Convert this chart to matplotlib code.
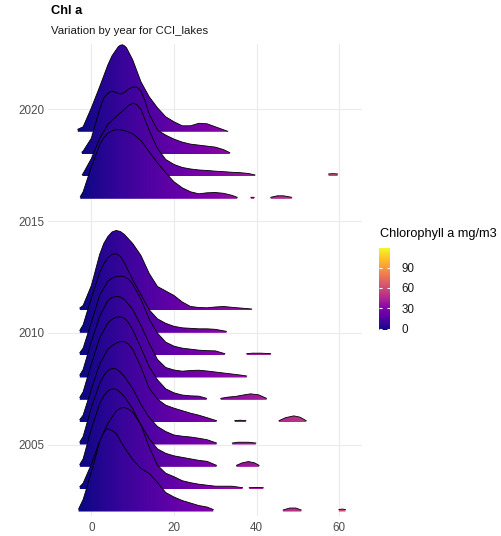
import numpy as np
import matplotlib
matplotlib.use("Agg")
import matplotlib.pyplot as plt
from matplotlib.path import Path
from matplotlib.patches import PathPatch
from matplotlib.colors import Normalize
from matplotlib.cm import ScalarMappable

plt.rcParams['font.family'] = ['Liberation Sans', 'DejaVu Sans']

nan = np.nan

# ridge heights (pixels above each year's baseline), nan = gap
x_2019 = [-3.3, -2, 0, 2, 4, 5, 6, 6.5, 7, 7.5, 8, 8.5, 9, 10, 12, 14, 16, 18, 20, 22, 24, 26, 28, 30, 32, 33]
d_2019 = [2.5, 5, 24, 45, 67, 76, 82, 85, 86.5, 87, 86, 84, 80, 72, 50, 35, 24, 15, 10, 6, 6, 8.5, 8, 5, 2, 0.5]

x_2018 = [-2.3, -2, 0, 2, 3, 4, 5, 6, 7, 8, 9, 10, 11, 12, 13, 14, 16, 18, 20, 22, 24, 26, 28, 30, 32, 33.5]
d_2018 = [2, 3, 16, 45, 56, 61, 63, 61.5, 60, 61.5, 65, 67, 67, 63, 53, 40, 24, 19, 15, 12, 10, 9, 8, 7, 4.5, 1.5]

x_2017 = [-2.2, -2, 0, 2, 4, 6, 8, 9, 10, 11, 12, 14, 16, 18, 20, 22, 24, 26, 28, 30, 32, 34, 36, 38, 39.6,
          nan, 57.4, 58.5, 59.6]
d_2017 = [2, 3, 18, 38, 52, 60, 67, 71, 73, 72, 67, 46, 28, 17, 12, 9, 7.5, 6.5, 6, 5.3, 4.8, 4.2, 3.8, 3, 1.5,
          nan, 2.5, 2.8, 2.5]

x_2016 = [-2.7, -2, 0, 2, 3, 4, 5, 6, 7, 8, 10, 12, 14, 16, 18, 20, 22, 24, 26, 28, 30, 32, 34, 35.3,
          nan, 38.6, 39.4, nan, 43.4, 45, 46.5, 48.5]
d_2016 = [2, 7, 32, 54, 61, 65.5, 68, 69, 69, 68.3, 65, 58.3, 47, 36, 26, 17, 11, 7, 5, 6, 6.3, 5.5, 3.5, 1.5,
          nan, 1.5, 1.5, nan, 1.5, 3, 3, 1.5]

x_2011 = [-2.8, -2, 0, 2, 3, 4, 5, 6, 7, 8, 10, 12, 14, 16, 18, 20, 22, 24, 26, 28, 30, 32, 34, 36, 38.8]
d_2011 = [2.5, 5, 25, 56, 67, 74, 78.5, 80, 79, 76, 67, 55, 37, 24, 19.5, 15, 8.5, 4, 3, 2.7, 3.5, 4, 3.2, 2.5, 1.5]

x_2010 = [-2.8, -2, 0, 2, 3, 4, 5, 6, 7, 8, 10, 12, 14, 16, 18, 20, 22, 24, 26, 28, 30, 32, 32.7]
d_2010 = [2.5, 8, 35, 60, 69, 75, 78.5, 79, 76.5, 70, 53, 38, 23, 14, 9.5, 6.5, 5, 4.5, 4, 4, 3.5, 2, 1.5]

x_2009 = [-2.8, -2, 0, 2, 4, 5, 6, 7, 8, 9, 10, 12, 14, 16, 18, 20, 22, 24, 26, 28, 30, 32.3,
          nan, 37.6, 39, 41, 43.4]
d_2009 = [2.5, 7, 33, 60, 74, 77, 78.5, 79, 78.5, 76, 71, 56, 36, 22, 13, 9, 7, 6, 5, 4.5, 4.3, 1.5,
          nan, 1.5, 2, 2, 1.5]

x_2008 = [-2.8, -2, 0, 2, 4, 5, 6, 7, 8, 10, 12, 14, 16, 18, 20, 22, 24, 26, 28, 30, 32, 34, 36, 37.6]
d_2008 = [2.5, 8, 36, 61, 77, 80, 81, 80.5, 78, 68, 52, 34, 18, 10, 7.5, 6.3, 7, 7.3, 6.5, 5.5, 4.5, 3.5, 2.5, 1.5]

x_2007 = [-2.8, -2, 0, 2, 4, 5, 6, 7, 8, 9, 10, 12, 14, 16, 18, 20, 22, 24, 26, 27.9,
          nan, 31.3, 33, 35, 37, 38.5, 40.5, 42.4]
d_2007 = [2.5, 8, 36, 62, 77, 80.5, 82.5, 83, 81.5, 77, 70, 52, 33, 20, 11, 7, 4.8, 4, 3.7, 1.5,
          nan, 1.5, 2.7, 3.5, 5, 6, 5, 1.5]

x_2006 = [-2.8, -2, 0, 2, 4, 5, 6, 7, 8, 9, 10, 12, 14, 16, 18, 20, 22, 24, 26, 28, 30.3,
          nan, 34.7, 36, 37.4, nan, 45.4, 47, 49, 50.5, 52]
d_2006 = [2.5, 7, 33, 58, 73, 76.5, 79, 80.5, 80.5, 78, 73, 55, 34, 23, 17, 14, 11.5, 9, 7, 4.5, 1.5,
          nan, 1.5, 2, 1.5, nan, 1.5, 4.5, 6.3, 5, 1.5]

x_2005 = [-2.8, -2, 0, 2, 3, 4, 5, 6, 7, 8, 10, 12, 14, 16, 18, 20, 22, 24, 26, 28, 30.3,
          nan, 34.1, 35.5, 38, 39.8]
d_2005 = [2.5, 8, 37, 61, 69, 74, 76, 75.5, 72.5, 68, 56, 40, 27, 18, 13, 9.5, 8.3, 7.5, 6.3, 4.8, 1.5,
          nan, 1.5, 2.3, 2.3, 1.5]

x_2004 = [-2.8, -2, 0, 2, 3, 4, 5, 6, 7, 8, 10, 12, 14, 16, 18, 20, 22, 24, 26, 28, 30.3,
          nan, 35.1, 36.5, 38, 39.5, 40.6]
d_2004 = [2.5, 8, 38, 63, 71, 76, 78, 77.5, 74.5, 70, 58, 42, 28, 18, 13.5, 11, 9.5, 8, 6.5, 5.5, 1.5,
          nan, 1.5, 4, 5.3, 4, 1.5]

x_2003 = [-2.8, -2, 0, 2, 4, 6, 7, 8, 9, 10, 12, 14, 16, 18, 20, 22, 24, 26, 28, 30, 32, 34, 36.6,
          nan, 38.2, 40, 41.6]
d_2003 = [2.5, 6, 25, 48, 66, 78, 81, 81.7, 80, 77, 64, 42, 24, 16, 12.5, 8.5, 6.5, 5, 4, 3, 3, 3, 1.5,
          nan, 1.5, 1.8, 1.5]

x_2002 = [-3.1, -2, -1.4, 0, 0.6, 2, 3, 3.8, 5, 6, 8, 10, 12, 14, 16, 18, 20, 22, 24, 26, 28, 29.5,
          nan, 46.4, 48, 49.5, 50.8, nan, 59.9, 60.7, 61.5]
d_2002 = [2.5, 12, 20, 40, 48, 70, 79, 83, 81, 78, 64, 52, 43, 38, 29, 19, 14.5, 11, 8.5, 6, 4.5, 2,
          nan, 1.5, 3.5, 3.5, 1.5, nan, 2, 2.5, 2]

years = [2019, 2018, 2017, 2016, 2011, 2010, 2009, 2008, 2007, 2006, 2005, 2004, 2003, 2002]
ridges = {
    2019: (x_2019, d_2019), 2018: (x_2018, d_2018), 2017: (x_2017, d_2017),
    2016: (x_2016, d_2016), 2011: (x_2011, d_2011), 2010: (x_2010, d_2010),
    2009: (x_2009, d_2009), 2008: (x_2008, d_2008), 2007: (x_2007, d_2007),
    2006: (x_2006, d_2006), 2005: (x_2005, d_2005), 2004: (x_2004, d_2004),
    2003: (x_2003, d_2003), 2002: (x_2002, d_2002),
}

scale = 1 / 22.33  # pixel heights -> rows (one year)
norm = Normalize(-2, 119)
cmap = plt.get_cmap("plasma")

fig = plt.figure(figsize=(5.02, 5.36), dpi=100)
ax = fig.add_axes([48 / 502, 20 / 536, (362 - 48) / 502, (516 - 44) / 536])
xlim = (-10.5, 65.5)
ylim = (2001.8, 2022.93)

grad = np.linspace(xlim[0], xlim[1], 600).reshape(1, -1)

for i, yr in enumerate(years):
    xs = np.array(ridges[yr][0], dtype=float)
    hs = np.array(ridges[yr][1], dtype=float) * scale
    z = 2 + 2 * i

    # split into pieces at the gaps
    verts, codes = [], []
    breaks = np.where(np.isnan(xs))[0]
    start = 0
    for stop in list(breaks) + [len(xs)]:
        px, ph = xs[start:stop], hs[start:stop]
        if len(px) > 1:
            pts = [(px[0], yr)] + list(zip(px, yr + ph)) + [(px[-1], yr), (px[0], yr)]
            verts += pts
            codes += [Path.MOVETO] + [Path.LINETO] * (len(pts) - 2) + [Path.CLOSEPOLY]
        start = stop + 1

    patch = PathPatch(Path(verts, codes), facecolor="none", edgecolor="none",
                      transform=ax.transData)
    ax.add_patch(patch)
    im = ax.imshow(grad, extent=[xlim[0], xlim[1], yr, yr + np.nanmax(hs)],
                   cmap=cmap, norm=norm, aspect="auto", origin="lower",
                   interpolation="bilinear", zorder=z)
    im.set_clip_path(patch)
    ax.plot(xs, yr + hs, color="black", lw=0.6, zorder=z + 0.5, solid_joinstyle="round")

ax.set_xlim(*xlim)
ax.set_ylim(*ylim)
ax.set_xticks([0, 20, 40, 60])
ax.set_yticks([2005, 2010, 2015, 2020])
ax.grid(color="#EBEBEB", lw=0.8)
ax.set_axisbelow(True)
for s in ax.spines.values():
    s.set_visible(False)
ax.tick_params(length=0, labelsize=8.4, labelcolor="#4D4D4D")
ax.tick_params(axis="y", pad=2.5)
ax.tick_params(axis="x", pad=4)

fig.text(51 / 502, 1 - 11.5 / 536, "Chl a", fontsize=9.3, fontweight="bold", va="center")
fig.text(51 / 502, 1 - 31.5 / 536, "Variation by year for CCI_lakes", fontsize=8.2,
         va="center", color="#1A1A1A")

# colour bar legend
cax = fig.add_axes([379 / 502, (536 - 330) / 536, 11 / 502, 82 / 536])
cb = fig.colorbar(ScalarMappable(norm=norm, cmap=cmap), cax=cax, ticks=[0, 30, 60, 90])
cb.outline.set_visible(False)
cax.tick_params(direction="in", length=2.2, width=0.8, color="white", left=True, right=True,
                labelsize=8.4, labelcolor="#1A1A1A", pad=8)
fig.text(380 / 502, 1 - 233.5 / 536, "Chlorophyll a mg/m3", fontsize=9.2, va="center")

fig.savefig("out.png", dpi=100)
